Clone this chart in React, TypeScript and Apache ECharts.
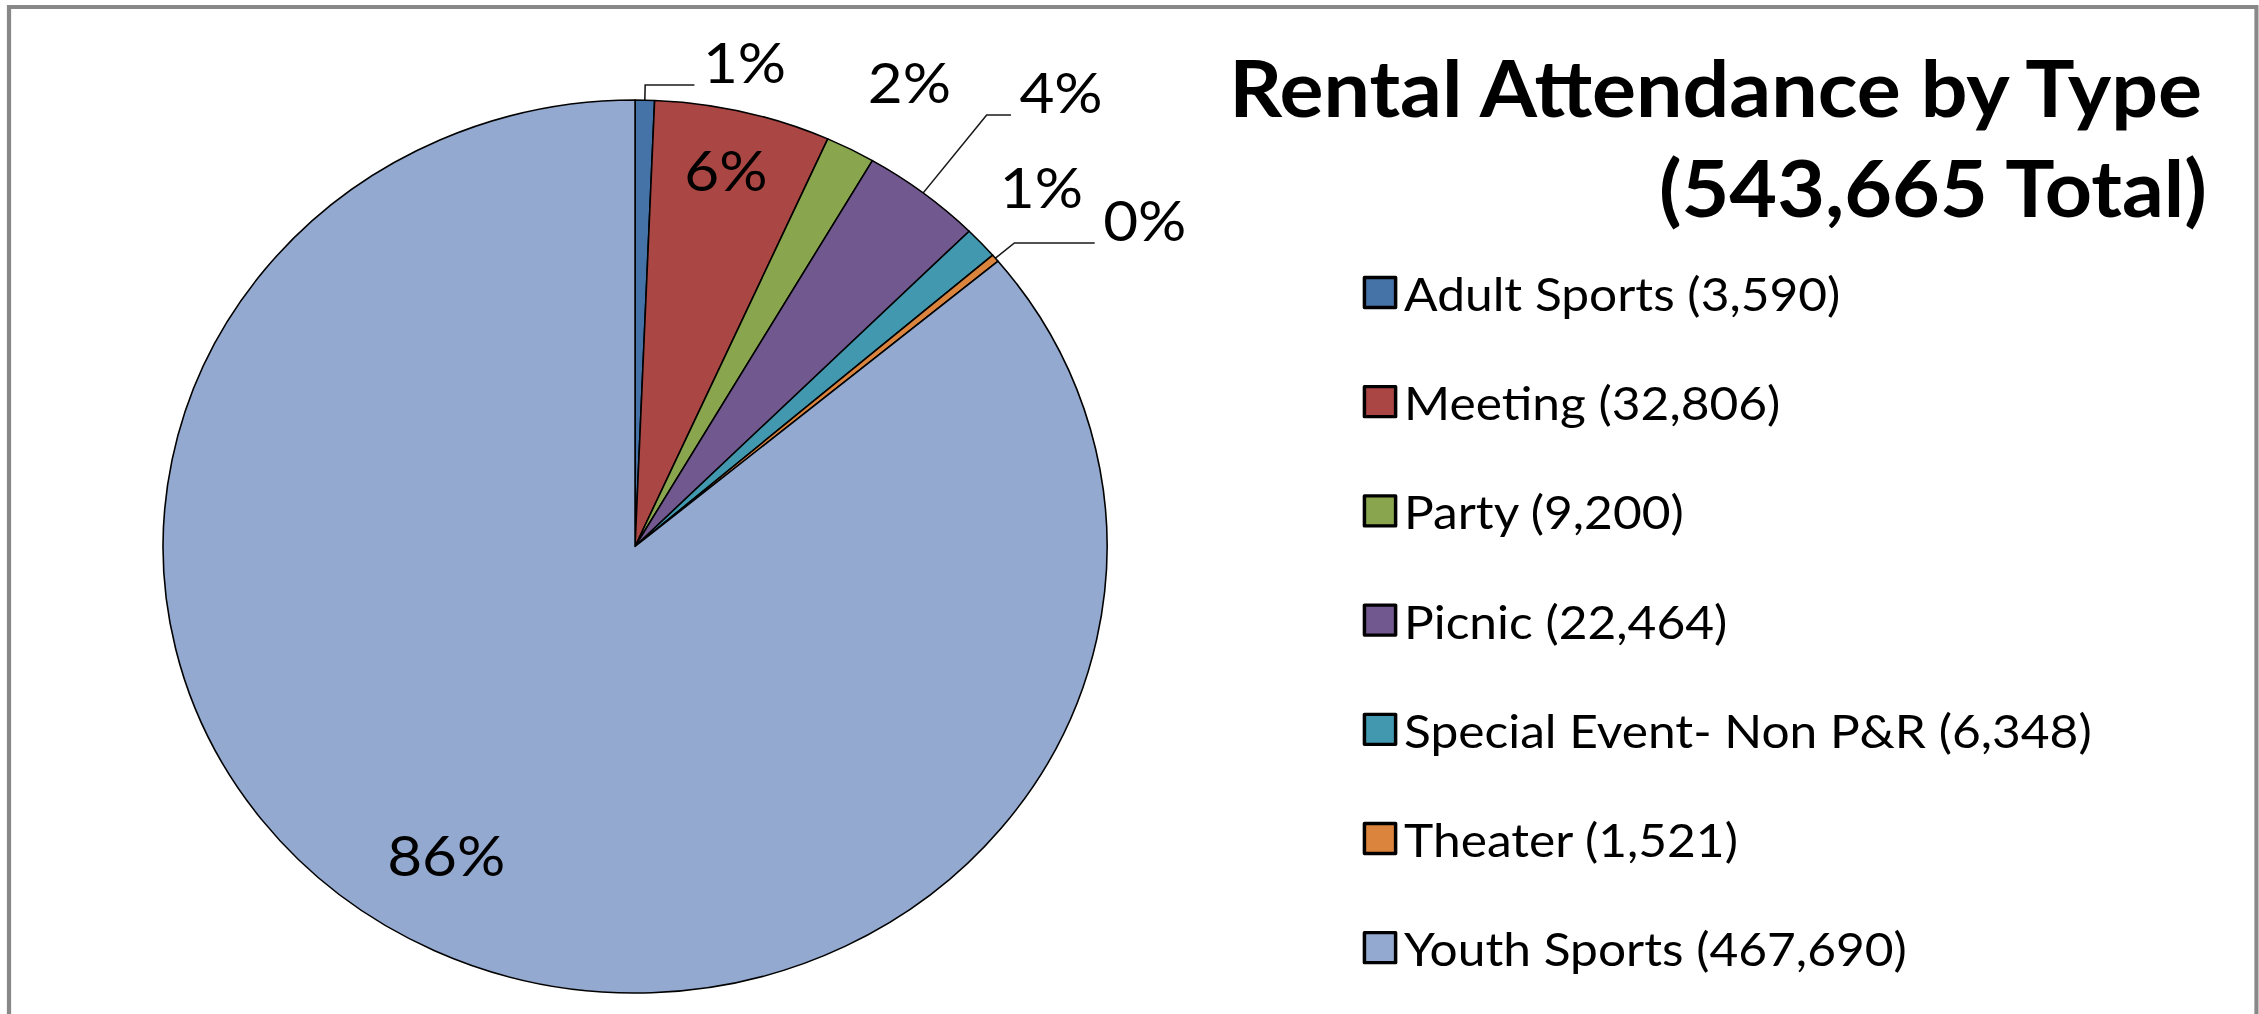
import React, { useEffect, useRef } from "react";
import * as echarts from "echarts";

// ---- data ----
const categories = [
  "Adult Sports",
  "Meeting",
  "Party",
  "Picnic",
  "Special Event- Non P&R",
  "Theater",
  "Youth Sports",
];
const values = [3590, 32806, 9200, 22464, 6348, 1521, 467690];
const colors = ["#4572A7", "#AA4643", "#89A54E", "#71588F", "#4198AF", "#DB843D", "#93A9CF"];
const titleLines = ["Rental Attendance by Type", "(543,665 Total)"];

// ---- layout (the reference is stretched horizontally) ----
const SX = 1.057;
const W = 2259;
const H = 1014;
const DW = W / SX;
const FONT = "Lato, Carlito, 'Open Sans', sans-serif";

const outsideLabel = (length: number, length2: number) => ({
  outside: true,
  label: { position: "outside" },
  labelLine: { show: true, length, length2 },
});
const insideLabel = (dx: number, dy: number) => ({
  outside: false,
  label: { position: "inside", offset: [dx, dy] },
  labelLine: { show: false },
});
const labelStyles = [
  outsideLabel(15.1, 46.6),
  insideLabel(34.1, -157.3),
  insideLabel(156.3, -264.5),
  outsideLabel(98.3, 23),
  insideLabel(218.5, -207.3),
  outsideLabel(23.5, 76),
  insideLabel(-82.5, 102.3),
];

const fmt = (v: number) => v.toLocaleString("en-US");
const LEGEND_TOP = 269;
const LEGEND_STEP = 109.2;

export default function App() {
  const ref = useRef<HTMLDivElement>(null);

  useEffect(() => {
    document.body.style.margin = "0";
    document.body.style.overflow = "hidden";
    if (!ref.current) return;
    const chart = echarts.init(ref.current, undefined, { renderer: "svg" });

    const data = categories.map((name, i) => {
      const { outside, ...rest } = labelStyles[i];
      return {
        name,
        value: values[i],
        itemStyle: { color: colors[i] },
        ...rest,
      };
    });

    const titleStyle = { fontFamily: FONT, fontSize: 78, fontWeight: "bold", color: "#000" };

    chart.setOption({
      animation: false,
      backgroundColor: "#ffffff",
      title: [
        { text: titleLines[0], right: DW - 2090.5, top: 48, padding: 0, textStyle: titleStyle },
        { text: titleLines[1], right: DW - 2090.5, top: 148, padding: 0, textStyle: titleStyle },
      ],
      legend: categories.map((name, i) => ({
        orient: "vertical",
        left: 1289.2,
        top: LEGEND_TOP + i * LEGEND_STEP,
        padding: 0,
        icon: "rect",
        itemWidth: 29.5,
        itemHeight: 30,
        data: [name],
        itemStyle: { borderColor: "#000", borderWidth: 3.3 },
        formatter: (n: string) => `${n} (${fmt(values[categories.indexOf(n)])})`,
        textStyle: {
          fontFamily: FONT,
          fontSize: 47,
          color: "#000",
          lineHeight: 30,
          padding: [0, 0, 0, 3],
        },
        selectedMode: false,
      })),
      graphic: [
        {
          type: "rect",
          shape: { x: 9 / SX, y: 7, width: (2256.5 - 9) / SX, height: 1100 },
          style: { fill: "none", stroke: "#888888", lineWidth: 4 },
          silent: true,
        },
      ],
      series: [
        {
          type: "pie",
          center: [600.8, 546.5],
          radius: 446.5,
          startAngle: 90,
          clockwise: true,
          avoidLabelOverlap: false,
          labelLayout: { hideOverlap: false, moveOverlap: null },
          silent: true,
          emphasis: { disabled: true },
          itemStyle: { borderColor: "#000", borderWidth: 1.5 },
          label: {
            formatter: (p: any) =>
              `${Math.round(p.percent)}%` + (labelStyles[p.dataIndex].outside ? "\n\u00a0" : ""),
            fontFamily: FONT,
            fontSize: 57,
            lineHeight: 48,
            color: "#000",
            distanceToLabelLine: 8,
          },
          labelLine: {
            lineStyle: { color: "#1a1a1a", width: 1.5 },
            smooth: false,
          },
          data,
        },
      ],
    });

    return () => chart.dispose();
  }, []);

  return (
    <div style={{ width: W, height: H, overflow: "hidden", position: "relative", background: "#fff" }}>
      <div
        ref={ref}
        style={{
          width: DW,
          height: H,
          transform: `scaleX(${SX})`,
          transformOrigin: "0 0",
        }}
      />
    </div>
  );
}
